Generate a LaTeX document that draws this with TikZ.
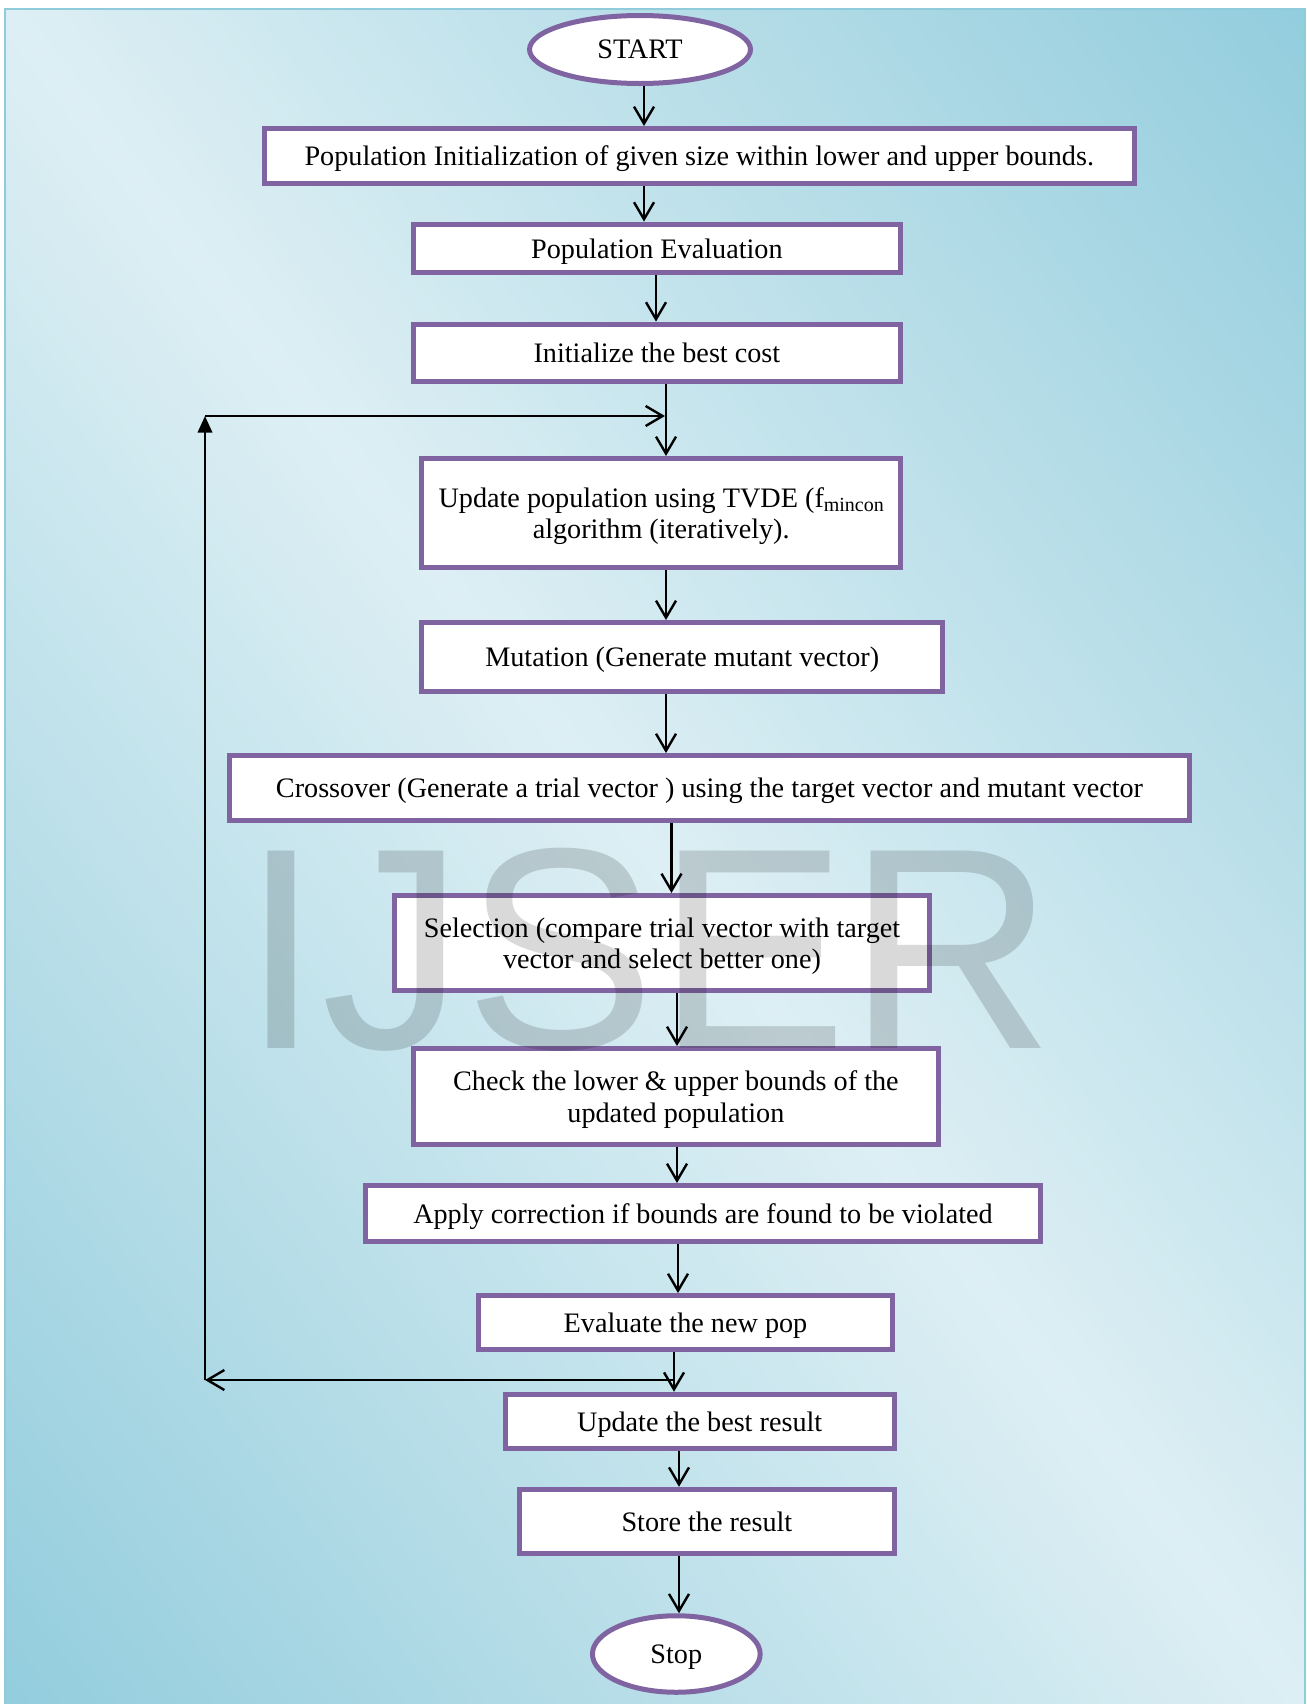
\documentclass[tikz,border=0pt]{standalone}
\usepackage{fontspec}
\setmainfont{Liberation Serif}
\newfontfamily\wmfont{Liberation Sans}
\usetikzlibrary{arrows.meta,shapes.geometric}
\definecolor{boxpurple}{HTML}{8064A2}
\definecolor{bgdark}{HTML}{93CDDD}
\definecolor{bglight}{HTML}{DDEFF4}
\definecolor{bgedge}{HTML}{8FCBDB}
\begin{document}
\begin{tikzpicture}[x=0.5pt,y=-0.5pt,
  box/.style={draw=boxpurple, line width=2.5pt, fill=white, rectangle, inner sep=0pt, align=center,
    text depth=0pt, font=\fontsize{14.1pt}{15.75pt}\selectfont},
  oval/.style={draw=boxpurple, line width=2.5pt, fill=white, ellipse, inner sep=0pt,
    text depth=0pt, font=\fontsize{14.1pt}{15.75pt}\selectfont},
  arr/.style={line width=1.2pt, -{Straight Barb[length=8.5pt,width=10pt]}},
  uparr/.style={line width=1.2pt, -{Triangle[length=8.3pt,width=7.2pt]}}]
\useasboundingbox (0,0) rectangle (1307,1704);
\fill[white] (0,0) rectangle (1307,1704);
\begin{scope}
\clip (5,9) rectangle (1305,1704);
\shade[transform canvas={rotate around={37.5:(655,856.5)}},
  left color=bgdark, right color=bgdark, middle color=bglight]
  (655-1031.7,856.5-1150) rectangle (655+1031.7,856.5+1150);
\end{scope}
\draw[bgedge, line width=0.6pt] (5,1704) -- (5,9) -- (1305,9) -- (1305,1704);

% nodes
\node[oval, minimum width=110.5pt, minimum height=34pt] (start) at (640,49.5) {START};
\node[box, minimum width=434.75pt, minimum height=27.5pt] (b1) at (699.25,156) {Population Initialization of given size within lower and upper bounds.};
\node[box, minimum width=243.65pt, minimum height=24.2pt] (b2) at (656.9,248.3) {Population Evaluation};
\node[box, minimum width=243.65pt, minimum height=28.5pt] (b3) at (656.9,352.6) {Initialize the best cost};
\node[box, minimum width=239.3pt, minimum height=54.7pt] (b4) at (661.2,513.2) {Update population using TVDE (f\raisebox{-0.15em}{\fontsize{10pt}{10pt}\selectfont mincon}\\algorithm (iteratively).};
\node[box, minimum width=260.3pt, minimum height=34.5pt] (b5) at (682.2,657) {Mutation (Generate mutant vector)};
\node[box, minimum width=480pt, minimum height=32.25pt] (b6) at (709.5,787.8) {Crossover (Generate a trial vector ) using the target vector and mutant vector};
\node[box, minimum width=267.5pt, minimum height=47.5pt] (b7) at (662,943) {Selection (compare trial vector with target\\vector and select better one)};
\node[box, minimum width=262.65pt, minimum height=48pt] (b8) at (675.9,1096.5) {Check the lower \& upper bounds of the\\updated population};
\node[box, minimum width=337.5pt, minimum height=28pt] (b9) at (703,1213.5) {Apply correction if bounds are found to be violated};
\node[box, minimum width=207pt, minimum height=26.75pt] (b10) at (685.5,1322.3) {Evaluate the new pop};
\node[box, minimum width=194.5pt, minimum height=27.15pt] (b11) at (699.7,1421.4) {Update the best result};
\node[box, minimum width=187.35pt, minimum height=32.15pt] (b12) at (706.9,1521.4) {Store the result};
\node[oval, minimum width=83.85pt, minimum height=38.25pt] (stop) at (676.3,1654) {Stop};

% arrow columns
\coordinate (xa) at (644,0);
\coordinate (xb) at (656,0);
\coordinate (xc) at (666,0);
\coordinate (xd) at (671.5,0);
\coordinate (xe) at (677,0);
\coordinate (xf) at (678,0);
\coordinate (xg) at (674,0);
\coordinate (xh) at (679,0);

\draw[arr] (start.south -| xa) -- (b1.north -| xa);
\draw[arr] (b1.south -| xa) -- (b2.north -| xa);
\draw[arr] (b2.south -| xb) -- (b3.north -| xb);
\draw[arr] (b3.south -| xc) -- (b4.north -| xc);
\draw[arr] (b4.south -| xc) -- (b5.north -| xc);
\draw[arr] (b5.south -| xc) -- (b6.north -| xc);
\draw[arr] (b6.south -| xd) -- (b7.north -| xd);
\draw[arr] (b7.south -| xe) -- (b8.north -| xe);
\draw[arr] (b8.south -| xe) -- (b9.north -| xe);
\draw[arr] (b9.south -| xf) -- (b10.north -| xf);
\draw[arr] (b10.south -| xg) -- (b11.north -| xg);
\draw[arr] (b11.south -| xh) -- (b12.north -| xh);
\draw[arr] (b12.south -| xh) -- (stop.north -| xh);

% loop back
\coordinate (lt) at (205,416);
\coordinate (lb) at (205,1380);
\coordinate (lr) at (674,1380);
\coordinate (ltr) at (665,416);
\draw[uparr] (lb) -- (lt);
\draw[arr] (lt) -- (ltr);
\draw[arr] (lr) -- (lb);

% watermark
\node[anchor=base west, inner sep=0pt, text=black, text opacity=0.15,
  font=\wmfont\fontsize{143.5pt}{143.5pt}\selectfont] (wm) at (241,1048) {IJSER};
\end{tikzpicture}
\end{document}
